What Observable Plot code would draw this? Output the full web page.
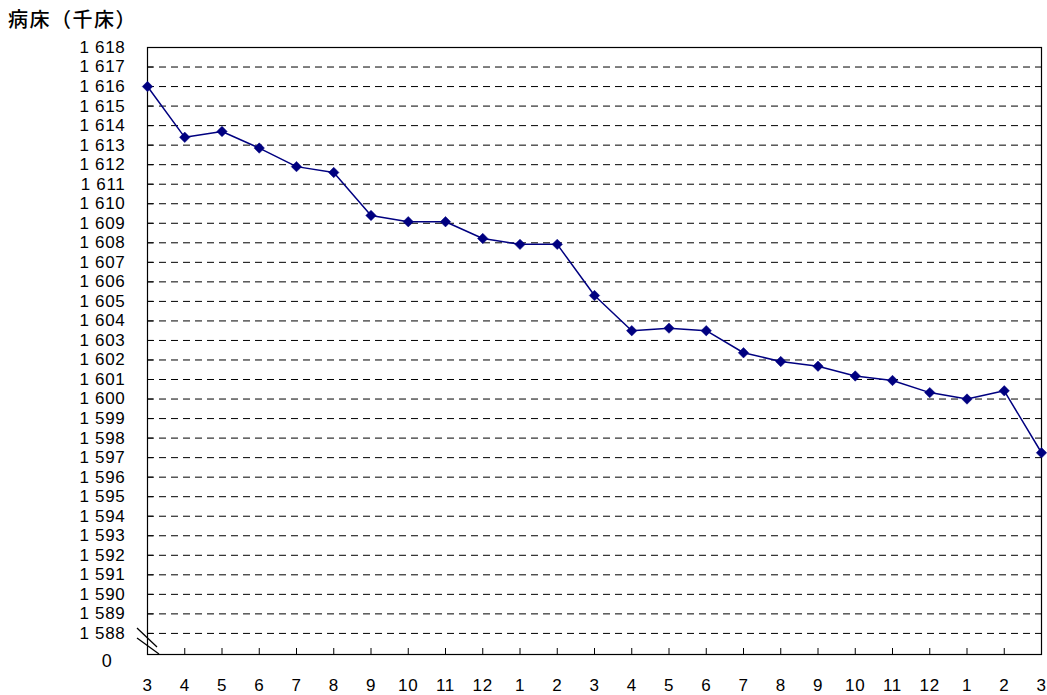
<!DOCTYPE html>
<html>
<head>
<meta charset="utf-8">
<script src="https://cdn.jsdelivr.net/npm/d3@7"></script>
<script src="https://cdn.jsdelivr.net/npm/@observablehq/plot@0.6"></script>
<style>
  body { margin: 0; background: white; }
  #wrap { position: relative; width: 1047px; height: 695px; }
  #title { position: absolute; left: 8px; top: 4px; font-family: "Noto Sans CJK JP", sans-serif; font-size: 20px; letter-spacing: 1.5px; font-weight: 500; color: black; }
</style>
</head>
<body>
<div id="wrap">
  <div id="title">病床（千床）</div>
</div>
<script>
// Month labels (March of year 1 through March of year 3)
const months = ["3","4","5","6","7","8","9","10","11","12","1","2","3","4","5","6","7","8","9","10","11","12","1","2","3"];
// Beds (thousand)
const beds = [1616.0, 1613.4, 1613.7, 1612.85, 1611.9, 1611.6, 1609.4, 1609.08, 1609.08, 1608.22, 1607.92, 1607.92,
              1605.3, 1603.5, 1603.63, 1603.5, 1602.37, 1601.92, 1601.68, 1601.18, 1600.95, 1600.33, 1600.0, 1600.42, 1597.25];
// y-axis tick values
const yTicks = d3.range(1588, 1619);
const gridValues = d3.range(1588, 1618);

const data = months.map((m, i) => ({i, month: m, value: beds[i]}));
const font = "'Liberation Sans', Arial, sans-serif";
const fmt = d => d3.format(",")(d).replace(",", " ");

const breakMarks = (index, scales, values, dimensions) => {
  const g = d3.create("svg:g").attr("stroke", "black").attr("stroke-width", 1.3);
  const x0 = dimensions.marginLeft;
  const y0 = dimensions.height - dimensions.marginBottom;
  g.append("line").attr("x1", x0 - 10).attr("y1", y0 - 26).attr("x2", x0 + 10).attr("y2", y0 - 7);
  g.append("line").attr("x1", x0 - 10).attr("y1", y0 - 16).attr("x2", x0 + 12).attr("y2", y0);
  return g.node();
};

const chart = Plot.plot({
  width: 1047,
  height: 695,
  marginLeft: 147,
  marginRight: 6,
  marginTop: 47,
  marginBottom: 41,
  style: {fontFamily: font, fontSize: "17px", letterSpacing: "0.7px", color: "black", background: "white"},
  x: {type: "linear", domain: [0, months.length - 1]},
  y: {domain: [1586.92, 1618]},
  marks: [
    Plot.ruleY(gridValues, {stroke: "black", strokeWidth: 1, strokeDasharray: "7,5"}),
    Plot.axisY({ticks: yTicks, tickSize: -6, tickPadding: 28, tickFormat: fmt, label: null, stroke: "black"}),
    Plot.axisX({ticks: d3.range(months.length), tickSize: -6, tickPadding: 30, tickFormat: i => months[i], label: null, stroke: "black"}),
    Plot.frame({stroke: "black", strokeWidth: 1.2}),
    Plot.text(["0"], {frameAnchor: "bottom-left", dx: -35, dy: 12, textAnchor: "end", fontSize: 18}),
    breakMarks,
    Plot.line(data, {x: "i", y: "value", stroke: "#000080", strokeWidth: 1.5}),
    Plot.dot(data, {x: "i", y: "value", symbol: "diamond2", r: 4.7, fill: "#000080", stroke: "#000080", strokeWidth: 0.5})
  ]
});
document.getElementById("wrap").prepend(chart);
</script>
</body>
</html>
